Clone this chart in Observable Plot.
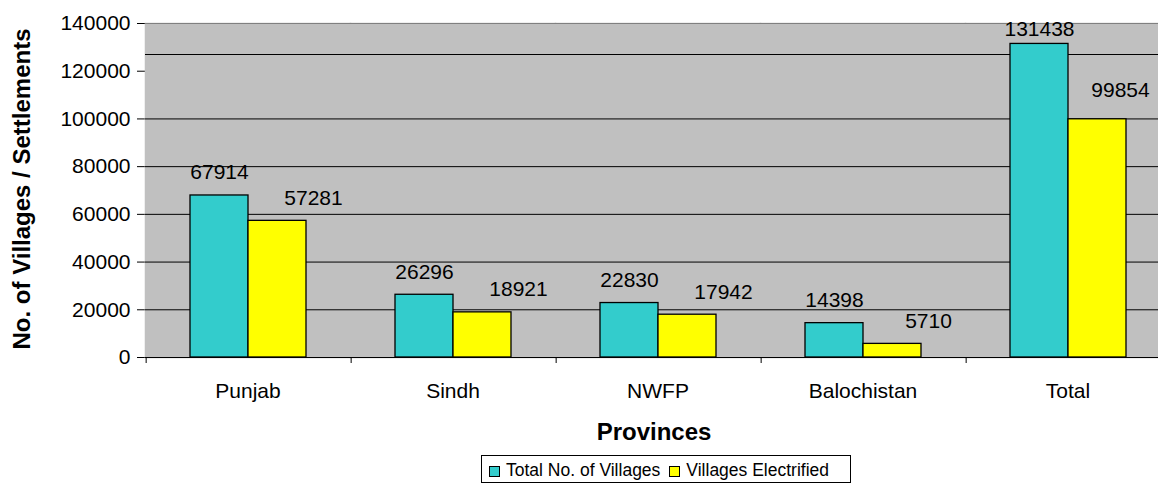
<!DOCTYPE html>
<html>
<head>
<meta charset="utf-8">
<script src="https://cdn.jsdelivr.net/npm/d3@7"></script>
<script src="https://cdn.jsdelivr.net/npm/@observablehq/plot@0.6"></script>
<style>
  html, body { margin: 0; padding: 0; background: #fff; overflow: hidden; }
  #chart svg { display: block; }
  #legend {
    position: absolute; left: 481px; top: 455px; width: 370px; height: 28px;
    box-sizing: border-box; border: 1px solid #000; background: #fff;
    font: 17.5px "Liberation Sans", Arial, sans-serif; color: #000;
    display: flex; align-items: center; padding: 2px 0 0 7px; white-space: nowrap;
  }
  #legend .item { display: flex; align-items: center; margin-right: 9px; }
  #legend .sw { width: 9px; height: 9px; border: 1px solid #000; margin-right: 6px; margin-top: 3px; }
</style>
</head>
<body>
<div id="chart"></div>
<div id="legend"></div>
<script>
// ---- data ----
const provinces = ["Punjab", "Sindh", "NWFP", "Balochistan", "Total"];
const series = ["Total No. of Villages", "Villages Electrified"];
const totalVillages = [67914, 26296, 22830, 14398, 131438];
const villagesElectrified = [57281, 18921, 17942, 5710, 99854];
const yTicks = [0, 20000, 40000, 60000, 80000, 100000, 120000, 140000];
const gridValues = [20000, 40000, 60000, 80000, 100000, 127000];
const colors = ["#33cccc", "#ffff00"];

const rows = provinces.flatMap((p, i) => [
  {province: p, series: series[0], value: totalVillages[i]},
  {province: p, series: series[1], value: villagesElectrified[i]}
]);

// ---- layout ----
const W = 1158, H = 452, mL = 145, mR = -12, mT = 23, mB = H - 357;
const padOuter = 0.758;
const facetW = (W - mL - mR) / provinces.length;
const step = facetW / (series.length + 2 * padOuter);
const boundaryDx = -(facetW / 2 - step / 2);
const font = '"Liberation Sans", Arial, sans-serif';
const last = provinces[provinces.length - 1];

const chart = Plot.plot({
  width: W, height: H,
  marginLeft: mL, marginRight: mR, marginTop: mT, marginBottom: mB,
  style: {fontFamily: font, fontSize: "21px", background: "white", color: "black"},
  facet: {data: rows, x: "province"},
  fx: {domain: provinces, padding: 0, label: null, tickSize: 0, tickPadding: 26, axis: "bottom"},
  x: {domain: series, paddingInner: 0, paddingOuter: padOuter, axis: null},
  y: {domain: [0, 140000], ticks: yTicks, tickSize: 8, tickPadding: 7,
      tickFormat: d => String(d), label: null, line: true},
  color: {domain: series, range: colors},
  marks: [
    Plot.frame({fill: "#c0c0c0", stroke: "#c0c0c0", strokeWidth: 1.5}),
    Plot.ruleY(gridValues, {stroke: "black", strokeWidth: 1}),
    Plot.ruleY([yTicks[yTicks.length - 1]], {stroke: "#808080", strokeWidth: 1}),
    Plot.barY(rows, {x: "series", y: "value", fill: "series", stroke: "black", strokeWidth: 1.3}),
    Plot.ruleY([0], {stroke: "black", strokeWidth: 1}),
    Plot.ruleX(rows, {filter: d => d.series === series[0], x: "series",
      y1: () => 0, y2: () => 0, insetBottom: -6, dx: boundaryDx, stroke: "black"}),
    Plot.text(rows, {filter: d => d.series === series[0] && d.province !== last,
      x: "series", y: "value", text: d => String(d.value), lineAnchor: "bottom", dy: -16, fill: "black"}),
    Plot.text(rows, {filter: d => d.series === series[1] && d.province !== last,
      x: "series", y: "value", text: d => String(d.value), lineAnchor: "bottom", dy: -16, dx: 36, fill: "black"}),
    Plot.text(rows, {filter: d => d.series === series[0] && d.province === last,
      x: "series", y: "value", text: d => String(d.value), lineAnchor: "bottom", dy: -8, fill: "black"}),
    Plot.text(rows, {filter: d => d.series === series[1] && d.province === last,
      x: "series", y: "value", text: d => String(d.value), lineAnchor: "bottom", dy: -22, dx: 23, fill: "black"})
  ]
});

const svg = d3.select(chart);
svg.append("text")
  .attr("transform", "translate(30,189) rotate(-90)")
  .attr("text-anchor", "middle")
  .attr("font-family", font).attr("font-size", 24).attr("font-weight", "bold")
  .attr("fill", "black")
  .text("No. of Villages / Settlements");
svg.append("text")
  .attr("x", 654).attr("y", 440)
  .attr("text-anchor", "middle")
  .attr("font-family", font).attr("font-size", 24).attr("font-weight", "bold")
  .attr("fill", "black")
  .text("Provinces");

document.getElementById("chart").appendChild(chart);

const legend = d3.select("#legend");
series.forEach((s, i) => {
  const item = legend.append("div").attr("class", "item");
  item.append("div").attr("class", "sw").style("background", colors[i]);
  item.append("span").text(s);
});
</script>
</body>
</html>
